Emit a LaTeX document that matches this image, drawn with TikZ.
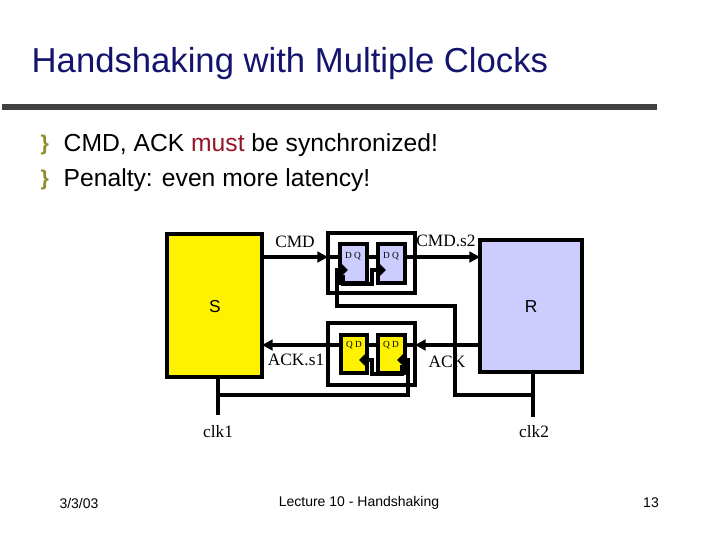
\documentclass[tikz,border=0pt]{standalone}
\usepackage{fontspec}
\setmainfont{Liberation Serif}
\setsansfont{Liberation Sans}
\usetikzlibrary{arrows.meta}
\definecolor{ttl}{RGB}{20,20,110}
\definecolor{lav}{RGB}{204,204,255}
\definecolor{mred}{RGB}{150,20,40}
\definecolor{oli}{RGB}{140,140,40}
\begin{document}
\begin{tikzpicture}[x=0.75pt,y=-0.75pt,
  blk/.style={draw=black,line width=3.5pt},
  wire/.style={draw=black,line width=3pt},
  arr/.style={wire,-{Triangle[length=8pt,width=8pt]}},
  lbl/.style={font=\fontsize{13}{14}\selectfont},
  ff/.style={font=\fontsize{7}{8}\selectfont}]
\useasboundingbox (0,0) rectangle (720,540);
\node[anchor=west,text=ttl,font=\sffamily\fontsize{26}{28}\selectfont] (title) at (27,64) {Handshaking with Multiple Clocks};
\fill[black!75] (2,104) rectangle (657,110);
\node[anchor=west,text=oli,font=\sffamily\bfseries\fontsize{16}{16}\selectfont] (b1) at (36,145) {\}};
\node[anchor=west,text=oli,font=\sffamily\bfseries\fontsize{16}{16}\selectfont] (b2) at (36,180) {\}};
\node[anchor=west,font=\sffamily\fontsize{18.5}{20}\selectfont] (t1) at (59,145) {CMD, ACK \textcolor{mred}{must} be synchronized!};
\node[anchor=west,font=\sffamily\fontsize{18.5}{20}\selectfont] (t2) at (59,180) {Penalty: even more latency!};
% blocks
\filldraw[blk,fill=yellow] (167,234) rectangle (262,377);
\filldraw[blk,fill=lav] (480,240) rectangle (582,372);
\node[font=\sffamily\fontsize{13}{14}\selectfont] (S) at (215,307) {S};
\node[font=\sffamily\fontsize{13}{14}\selectfont] (R) at (531,307) {R};
% sync boxes
\draw[blk] (328,233) rectangle (415,293);
\draw[blk] (328,323) rectangle (415,385);
\filldraw[wire,fill=lav] (340,244) rectangle (367,283);
\filldraw[wire,fill=lav] (378,244) rectangle (405,283);
\filldraw[wire,fill=yellow] (341,335) rectangle (367,373);
\filldraw[wire,fill=yellow] (378,335) rectangle (405,373);
\node[ff] (f1) at (353,256) {D Q};
\node[ff] (f2) at (391,256) {D Q};
\node[ff] (f3) at (354,345) {Q D};
\node[ff] (f4) at (391,345) {Q D};
% clock notches
\foreach \x in {340,378}{\draw[wire] (\x,265)--(\x+5,270)--(\x,275);}
\foreach \x in {367,405}{\draw[wire] (\x,355)--(\x-5,360)--(\x,365);}
% data
\draw[arr] (262,257) -- (328,257);
\draw[wire] (328,257) -- (340,257);
\draw[wire] (367,257) -- (378,257);
\draw[wire] (405,257) -- (415,257);
\draw[arr] (415,257) -- (480,257);
\draw[arr] (480,345) -- (415,345);
\draw[wire] (415,345) -- (405,345);
\draw[wire] (378,345) -- (367,345);
\draw[arr] (341,345) -- (262,345);
% clk2
\draw[wire] (533,372) -- (533,417);
\draw[wire] (533,395) -- (455,395) -- (455,306) -- (337,306) -- (337,270) -- (345,270);
\draw[wire] (343,275) -- (343,284) -- (372,284) -- (372,270) -- (383,270);
% clk1
\draw[wire] (218,377) -- (218,415);
\draw[wire] (218,395) -- (408,395) -- (408,360) -- (400,360);
\draw[wire] (402,365) -- (402,374) -- (372,374) -- (372,360) -- (362,360);
% labels
\node[lbl] (cmd) at (295,242) {CMD};
\node[lbl] (cmds2) at (446,241) {CMD.s2};
\node[lbl] (acks1) at (296,360) {ACK.s1};
\node[lbl] (ack) at (447,362) {ACK};
\node[lbl] (clk1) at (218,432) {clk1};
\node[lbl] (clk2) at (534,432) {clk2};
% footer
\node[font=\sffamily\fontsize{10.5}{12}\selectfont] (d) at (79,503) {3/3/03};
\node[font=\sffamily\fontsize{10.5}{12}\selectfont] (lec) at (359,503) {Lecture 10 - Handshaking};
\node[font=\sffamily\fontsize{10.5}{12}\selectfont] (pg) at (651,503) {13};
\end{tikzpicture}
\end{document}
